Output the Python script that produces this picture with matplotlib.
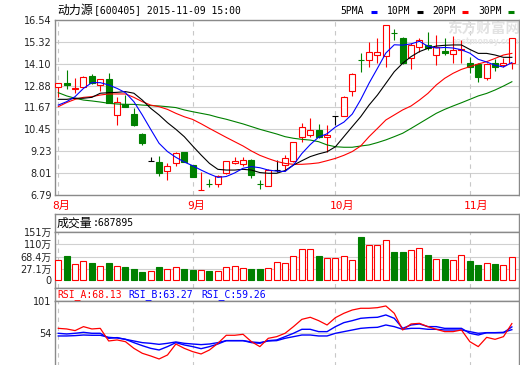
import matplotlib
matplotlib.use('Agg')
import matplotlib.pyplot as plt
import numpy as np
from matplotlib.lines import Line2D
from matplotlib.transforms import offset_copy

W, H = 520, 365

# ---- data (600405, Aug-Nov 2015) ----
opens = [12.79, 13.05, 12.68, 12.82, 13.42, 12.90, 13.24, 11.23, 11.86, 11.30,
         10.17, 8.68, 8.61, 8.15, 8.56, 9.17, 8.46, 7.07, 7.41, 7.40,
         8.03, 8.59, 8.50, 8.74, 7.41, 7.30, 8.18, 8.46, 8.70, 10.01,
         10.13, 10.41, 10.01, 11.19, 11.19, 12.60, 14.32, 14.31, 14.57, 14.53,
         15.81, 15.52, 14.41, 15.05, 15.15, 14.59, 14.83, 14.63, 14.88, 14.16,
         14.09, 13.29, 14.13, 14.05, 14.13]
highs = [13.05, 13.75, 13.29, 13.42, 13.51, 13.27, 13.57, 12.23, 12.36, 11.62,
         10.26, 8.93, 8.96, 8.56, 9.17, 9.17, 8.46, 8.05, 7.66, 7.90,
         8.70, 8.92, 8.92, 8.78, 7.63, 8.22, 8.74, 9.02, 9.77, 10.78,
         11.10, 10.73, 10.69, 11.19, 12.31, 13.57, 14.68, 15.33, 15.52, 16.26,
         16.02, 15.57, 15.24, 15.52, 15.89, 15.70, 15.52, 15.65, 15.40, 14.50,
         14.16, 14.13, 14.35, 14.41, 15.52]
lows = [12.27, 12.68, 12.49, 12.79, 12.97, 12.60, 11.93, 10.71, 11.68, 10.65,
        9.60, 8.68, 7.85, 7.63, 8.41, 8.65, 7.78, 7.07, 7.22, 7.26,
        7.97, 8.52, 8.41, 7.74, 7.11, 7.28, 8.09, 8.14, 8.61, 9.76,
        10.04, 9.99, 9.20, 10.69, 11.19, 12.31, 13.66, 13.94, 14.13, 13.94,
        15.43, 14.10, 13.79, 14.77, 14.87, 14.03, 14.59, 14.13, 14.13, 13.57,
        13.10, 13.22, 13.72, 13.94, 13.79]
closes = [13.01, 12.90, 12.74, 13.38, 13.05, 13.24, 11.93, 11.99, 11.71, 10.69,
          9.67, 8.68, 8.00, 8.41, 9.11, 8.65, 7.78, 7.08, 7.40, 7.87,
          8.67, 8.70, 8.74, 7.90, 7.40, 8.18, 8.18, 8.84, 9.73, 10.56,
          10.41, 10.04, 10.13, 11.19, 12.27, 13.53, 14.31, 14.74, 14.74, 16.26,
          15.80, 14.16, 15.15, 15.43, 14.96, 15.05, 14.69, 14.87, 14.91, 13.94,
          13.35, 14.09, 13.94, 14.16, 15.52]
# volume in 万手
volume = [57.5, 71.9, 44.0, 54.1, 48.4, 37.3, 48.4, 37.3, 33.9, 27.2,
          18.1, 20.5, 32.9, 26.2, 32.9, 26.2, 23.9, 22.8, 20.5, 19.5,
          34.9, 38.3, 29.6, 26.2, 27.2, 30.6, 50.7, 47.4, 69.9, 93.4,
          93.4, 70.9, 64.2, 64.2, 69.9, 56.4, 134.7, 106.8, 106.8, 123.6,
          84.3, 84.3, 90.0, 96.8, 73.2, 59.8, 59.8, 56.4, 73.2, 54.1,
          39.6, 46.4, 44.0, 39.6, 68.7895]
ma5 = [11.80, 11.99, 12.27, 12.73, 13.05, 13.05, 12.92, 12.73, 12.49, 11.99,
       11.25, 10.45, 9.67, 9.21, 8.89, 8.63, 8.42, 8.18, 7.96, 7.77,
       7.82, 8.02, 8.28, 8.37, 8.31, 8.18, 8.12, 8.10, 8.46, 9.10,
       9.60, 10.02, 10.20, 10.58, 10.85, 11.30, 12.10, 13.02, 13.85, 14.70,
       15.16, 15.14, 15.21, 15.35, 15.08, 14.98, 15.01, 14.98, 14.88, 14.69,
       14.35, 14.20, 14.02, 13.92, 14.17]
ma10 = [12.12, 12.12, 12.18, 12.18, 12.23, 12.46, 12.49, 12.51, 12.55, 12.46,
        12.08, 11.62, 11.25, 10.82, 10.45, 10.04, 9.52, 9.02, 8.55, 8.22,
        8.18, 8.18, 8.22, 8.18, 8.04, 8.00, 8.00, 8.15, 8.46, 8.70,
        8.93, 9.08, 9.20, 9.48, 10.04, 10.60, 11.15, 11.80, 12.36, 13.01,
        13.66, 14.13, 14.50, 14.78, 14.96, 15.09, 15.13, 15.15, 15.15, 14.90,
        14.68, 14.68, 14.59, 14.46, 14.46]
ma20 = [11.71, 11.94, 12.12, 12.23, 12.27, 12.36, 12.42, 12.42, 12.42, 12.23,
        11.99, 11.80, 11.71, 11.56, 11.34, 11.15, 11.00, 10.76, 10.50, 10.25,
        10.00, 9.76, 9.52, 9.24, 9.00, 8.82, 8.66, 8.55, 8.50, 8.50,
        8.53, 8.58, 8.70, 8.83, 9.00, 9.21, 9.52, 10.04, 10.50, 10.97,
        11.25, 11.53, 11.75, 12.08, 12.45, 12.92, 13.29, 13.57, 13.79, 13.94,
        14.09, 14.22, 14.40, 14.59, 14.68]
ma30 = [12.49, 12.31, 12.18, 12.08, 12.03, 11.97, 11.90, 11.86, 11.84, 11.84,
        11.80, 11.77, 11.75, 11.71, 11.66, 11.53, 11.43, 11.34, 11.25, 11.12,
        11.01, 10.88, 10.75, 10.60, 10.45, 10.32, 10.19, 10.04, 9.95, 9.89,
        9.85, 9.76, 9.58, 9.48, 9.45, 9.45, 9.52, 9.58, 9.71, 9.86,
        10.04, 10.23, 10.50, 10.78, 11.06, 11.34, 11.56, 11.75, 11.93, 12.12,
        12.31, 12.45, 12.64, 12.86, 13.10]
rsi_a = [61.2, 60.3, 57.9, 63.7, 60.3, 61.2, 42.8, 44.3, 41.8, 32.1,
         24.9, 21.0, 16.6, 22.4, 38.4, 32.1, 27.3, 23.9, 29.7, 39.4,
         51.1, 51.1, 52.5, 41.8, 34.6, 46.7, 49.1, 54.0, 63.7, 74.3,
         77.3, 72.4, 66.1, 76.8, 83.1, 87.9, 90.4, 90.4, 91.3, 93.8,
         83.1, 58.8, 67.6, 68.5, 63.7, 59.8, 56.4, 56.4, 58.8, 41.8,
         34.6, 48.1, 45.2, 49.1, 68.13]
rsi_b = [54.0, 53.0, 54.0, 55.4, 54.0, 54.0, 46.7, 47.7, 45.2, 40.4,
         36.0, 32.1, 29.7, 34.6, 40.4, 37.0, 34.6, 31.6, 34.6, 38.4,
         43.3, 43.3, 43.3, 40.4, 39.4, 43.3, 44.3, 49.1, 54.0, 59.8,
         59.8, 56.4, 56.4, 63.7, 69.5, 72.4, 75.8, 76.8, 77.3, 80.7,
         75.8, 61.2, 66.1, 67.6, 63.7, 63.7, 61.2, 61.2, 61.2, 54.0,
         51.5, 54.9, 54.9, 54.9, 63.27]
rsi_c = [50.1, 50.1, 50.6, 51.5, 51.1, 51.1, 48.1, 47.2, 45.2, 42.8,
         40.4, 39.4, 37.9, 39.4, 41.4, 39.4, 38.4, 37.5, 38.4, 40.4,
         43.3, 43.3, 43.3, 41.4, 40.4, 42.8, 43.3, 46.7, 49.1, 51.5,
         51.5, 50.1, 50.1, 54.0, 56.4, 58.8, 61.2, 62.2, 62.7, 66.1,
         63.7, 59.8, 61.2, 61.2, 59.8, 59.8, 58.8, 58.8, 58.8, 56.4,
         54.0, 54.9, 54.9, 55.4, 59.26]

month_idx = [0, 16, 33, 49]
month_labels = ['8月', '9月', '10月', '11月']
price_ticks = [6.79, 8.01, 9.23, 10.45, 11.67, 12.88, 14.10, 15.32, 16.54]
vol_ticks = [27.1, 68.4, 110, 151]
vol_tick_labels = ['27.1万', '68.4万', '110万', '151万']
rsi_ticks = [54, 101]
ma_names = ['5PMA', '10PM', '20PM', '30PM']

RED = '#ff0000'
GREEN = '#008000'
BLUE = '#0000ff'
GRID = '#d0d0d0'
EDGE = '#8a8a8a'
CJK = 'Noto Sans CJK SC'
MONO = 'DejaVu Sans Mono'

fig = plt.figure(figsize=(W / 100, H / 100), dpi=100)
fig.patch.set_facecolor('white')


def add_ax(x0, y0, x1, y1):
    ax = fig.add_axes([x0 / W, 1 - y1 / H, (x1 - x0) / W, (y1 - y0) / H])
    ax.set_xlim(-0.39, 54.85)
    for s in ax.spines.values():
        s.set_color(EDGE)
        s.set_linewidth(1.0)
    ax.tick_params(length=0, pad=2.3, labelsize=7, labelcolor='#222222')
    ax.set_xticks([])
    return ax


def ftext(x, y, s, **kw):
    kw.setdefault('va', 'center')
    fig.text(x / W, 1 - y / H, s, **kw)


x = np.arange(len(closes))
o = np.array(opens)
c = np.array(closes)
hi = np.array(highs)
lo = np.array(lows)
up = c > o
down = c < o
flat = c == o
bw = 0.72

# ---- price panel ----
ax = add_ax(55, 20, 519, 195)
ax.set_ylim(6.79, 16.54)
ax.set_yticks(price_ticks)
ax.set_yticklabels(['%.2f' % v for v in price_ticks])
for v in price_ticks:
    ax.axhline(v, color=GRID, lw=0.8, zorder=0)
for m in month_idx:
    ax.axvline(m, color='#c8c8c8', lw=0.8, ls=(0, (4, 4)), zorder=0)

ax.text(447 / W, 1 - 29 / H, '东方财富网', transform=fig.transFigure, family=CJK,
        size=10.5, weight='bold', color='#e2e2e2', va='center', zorder=1)
ax.text(452 / W, 1 - 41 / H, 'eastmoney.com', transform=fig.transFigure,
        size=5.5, weight='bold', color='#e6e6e6', va='center', zorder=1)

col = np.where(up, RED, np.where(down, GREEN, 'black'))
ax.vlines(x, lo, hi, colors=col, lw=0.8, zorder=2)
ax.bar(x[up], (c - o)[up], bw, bottom=o[up], facecolor='white', edgecolor=RED, lw=0.8, zorder=3)
ax.bar(x[down], (o - c)[down], bw, bottom=c[down], facecolor=GREEN, edgecolor=GREEN, lw=0.8, zorder=3)
ax.hlines(c[flat], x[flat] - bw / 2, x[flat] + bw / 2, colors='black', lw=0.8, zorder=3)

for ser, cc in zip([ma30, ma20, ma10, ma5], [GREEN, RED, 'black', BLUE]):
    ax.plot(x, ser, color=cc, lw=0.8, zorder=4)

tr = offset_copy(ax.get_xaxis_transform(), fig=fig, x=-5.7, y=0, units='dots')
for m, lab in zip(month_idx, month_labels):
    ax.text(m, (195 - 206) / 175, lab, transform=tr, ha='left', va='center',
            color=RED, size=8, family=[MONO, CJK], clip_on=False)

# title + legend
ftext(57, 10, '动力源', family=CJK, size=8.6)
ftext(94, 10.5, '[600405] 2015-11-09 15:00', family=MONO, size=7)
for lab, cc, tx, dx in zip(ma_names, [BLUE, 'black', RED, GREEN],
                           [340, 387, 432, 478], [371, 417, 462, 508]):
    ftext(tx, 10.5, lab, family=MONO, size=7)
    fig.add_artist(Line2D([dx / W, (dx + 6) / W], [1 - 11.5 / H, 1 - 11.5 / H],
                          color=cc, lw=2.2, solid_capstyle='butt'))

# ---- volume panel ----
vh = add_ax(55, 214, 519, 232)
vh.set_yticks([])
ftext(57, 223, '成交量', family=CJK, size=8.6)
ftext(93, 223.5, ':%d' % round(volume[-1] * 10000), family=MONO, size=7)

av = add_ax(55, 232, 519, 288)
vol_base = -9.7
av.set_ylim(-36.6, 151.5)
av.set_yticks([vol_base] + vol_ticks)
av.set_yticklabels(['0'] + vol_tick_labels)
for t in av.get_yticklabels():
    t.set_fontfamily(['DejaVu Sans', CJK])
for v in vol_ticks[:-1]:
    av.axhline(v, color=GRID, lw=0.8, zorder=0)
for m in month_idx:
    av.axvline(m, color='#c8c8c8', lw=0.8, ls=(0, (4, 4)), zorder=0)
vol = np.array(volume)
vup = c >= o
av.bar(x[vup], vol[vup] - vol_base, bw, bottom=vol_base, facecolor='white',
       edgecolor=RED, lw=0.8, zorder=3)
av.bar(x[~vup], vol[~vup] - vol_base, bw, bottom=vol_base, facecolor=GREEN,
       edgecolor=GREEN, lw=0.8, zorder=3)

# ---- RSI panel ----
rh = add_ax(55, 288, 519, 301)
rh.set_yticks([])
ftext(57, 294.5, 'RSI_A:%.2f' % rsi_a[-1], family=MONO, size=7, color=RED)
ftext(128, 294.5, 'RSI_B:%.2f' % rsi_b[-1], family=MONO, size=7, color=BLUE)
ftext(201, 294.5, 'RSI_C:%.2f' % rsi_c[-1], family=MONO, size=7, color=BLUE)

ar = add_ax(55, 301, 519, 368)
ar.set_ylim(101 - 67 / 0.687, 101)
ar.set_yticks(rsi_ticks)
ar.set_yticklabels([str(v) for v in rsi_ticks])
ar.axhline(54, color=GRID, lw=0.8, zorder=0)
for m in month_idx:
    ar.axvline(m, color='#c8c8c8', lw=0.8, ls=(0, (4, 4)), zorder=0)
ar.plot(x, rsi_c, color=BLUE, lw=1.0, zorder=3)
ar.plot(x, rsi_b, color=BLUE, lw=1.0, zorder=3)
ar.plot(x, rsi_a, color=RED, lw=0.9, zorder=4)

fig.savefig('out.png', dpi=100)
